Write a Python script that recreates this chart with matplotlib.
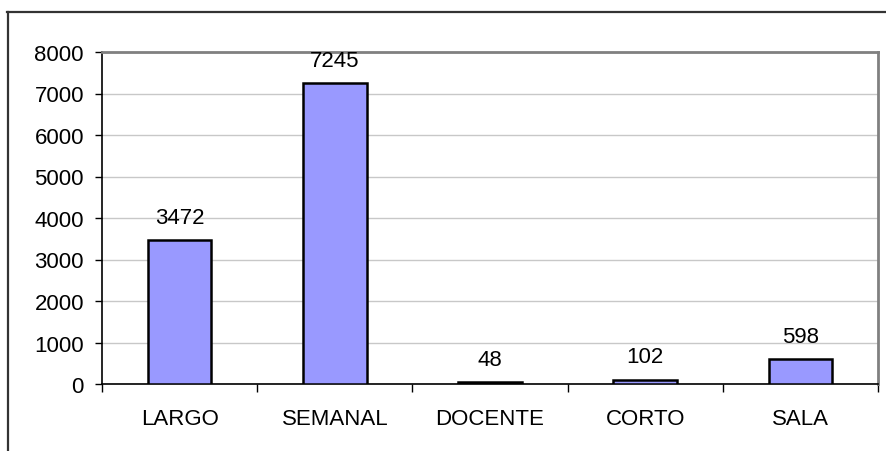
import matplotlib.pyplot as plt
from matplotlib.lines import Line2D

categories = ['LARGO', 'SEMANAL', 'DOCENTE', 'CORTO', 'SALA']
values = [3472, 7245, 48, 102, 598]
yticks = [0, 1000, 2000, 3000, 4000, 5000, 6000, 7000, 8000]

plt.rcParams['font.family'] = ['Liberation Sans', 'DejaVu Sans']

fig = plt.figure(figsize=(8.86, 4.52), dpi=100)
ax = fig.add_axes([102 / 886, 1 - 385 / 452, 776 / 886, 332 / 452])

x = list(range(len(categories)))
ax.bar(x, values, width=0.41, color='#9999FF', edgecolor='black', linewidth=1.8, zorder=3)
for xi, v in zip(x, values):
    ax.annotate(str(v), (xi, v), xytext=(0, 12.5), textcoords='offset points',
                ha='center', va='baseline', fontsize=16)

ax.set_xlim(-0.5, len(categories) - 0.5)
ax.set_ylim(0, 8000)
ax.set_yticks(yticks)
ax.set_xticks(x)
ax.set_xticklabels(categories, fontsize=16)
ax.tick_params(axis='y', labelsize=16, length=5, width=1, direction='out', pad=8)
ax.tick_params(axis='x', length=0, pad=17)
# category boundary ticks
ax.set_xticks([i - 0.5 for i in range(len(categories) + 1)], minor=True)
ax.tick_params(axis='x', which='minor', length=6, width=1, direction='out')

ax.grid(axis='y', color='#c8c8c8', linewidth=1, zorder=0)
for side in ['top', 'right']:
    ax.spines[side].set_color('#808080')
    ax.spines[side].set_linewidth(2)
ax.spines['left'].set_linewidth(1.2)
ax.spines['bottom'].set_linewidth(1.2)

# outer chart frame
fig.add_artist(Line2D([6.5 / 886, 1], [1 - 13 / 452, 1 - 13 / 452],
                      transform=fig.transFigure, color='#333333', linewidth=1.6))
fig.add_artist(Line2D([7.5 / 886, 7.5 / 886], [0, 1 - 13 / 452],
                      transform=fig.transFigure, color='#333333', linewidth=1.6))

fig.savefig('out.png', dpi=100)
